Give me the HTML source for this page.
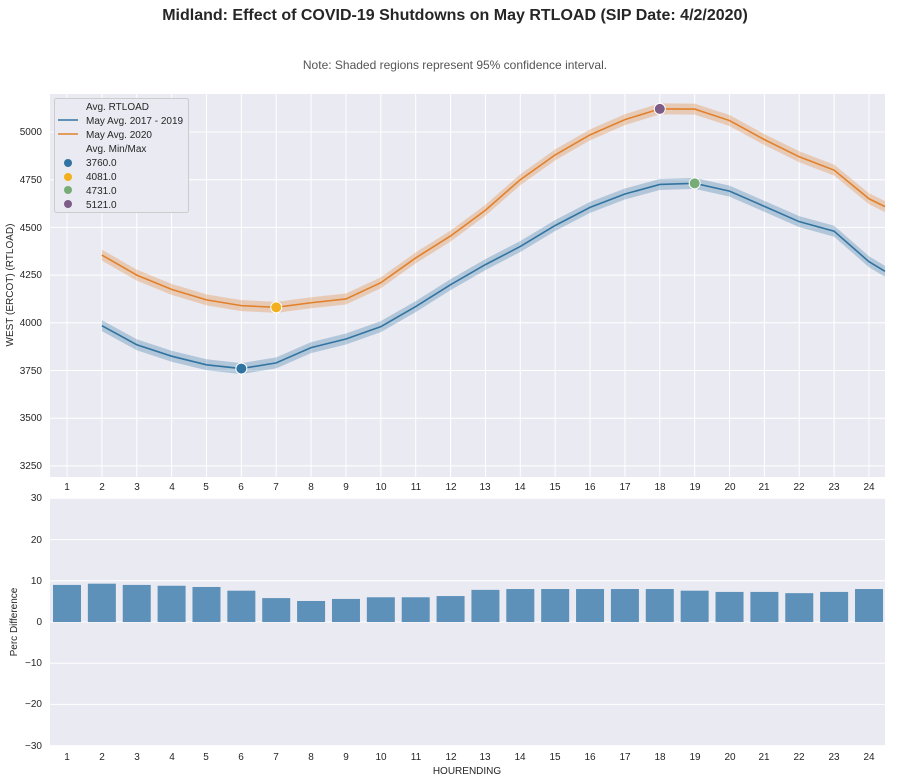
<!DOCTYPE html>
<html><head><meta charset="utf-8"><style>
body{margin:0;background:#fff;}
svg{display:block;font-family:"Liberation Sans",Arial,sans-serif;}
</style></head><body>
<svg id="s" width="897" height="782" viewBox="0 0 897 782">
<text x="455" y="20" text-anchor="middle" font-size="16" font-weight="bold" fill="#262626">Midland: Effect of COVID-19 Shutdowns on May RTLOAD (SIP Date: 4/2/2020)</text>
<text x="455" y="69" text-anchor="middle" font-size="12" fill="#555">Note: Shaded regions represent 95% confidence interval.</text>
<rect x="50" y="94" width="835" height="383" fill="#eaeaf2"/>
<rect x="50" y="498" width="835" height="248" fill="#eaeaf2"/>
<g id="grid" stroke="#fff" stroke-width="1"></g>
<g id="series"></g>
<g font-size="10" fill="#262626" text-anchor="end">
<text x="42" y="135">5000</text><text x="42" y="183">4750</text><text x="42" y="231">4500</text><text x="42" y="278">4250</text><text x="42" y="326">4000</text><text x="42" y="374">3750</text><text x="42" y="421">3500</text><text x="42" y="469">3250</text>
<text x="42" y="501">30</text><text x="42" y="543">20</text><text x="42" y="584">10</text><text x="42" y="625">0</text><text x="42" y="666">−10</text><text x="42" y="707">−20</text><text x="42" y="749">−30</text>
</g>
<g font-size="10" fill="#262626" text-anchor="middle">
<text x="67" y="490">1</text><text x="102" y="490">2</text><text x="137" y="490">3</text><text x="172" y="490">4</text><text x="206" y="490">5</text><text x="241" y="490">6</text><text x="276" y="490">7</text><text x="311" y="490">8</text><text x="346" y="490">9</text><text x="381" y="490">10</text><text x="416" y="490">11</text><text x="451" y="490">12</text><text x="485" y="490">13</text><text x="520" y="490">14</text><text x="555" y="490">15</text><text x="590" y="490">16</text><text x="625" y="490">17</text><text x="660" y="490">18</text><text x="695" y="490">19</text><text x="730" y="490">20</text><text x="764" y="490">21</text><text x="799" y="490">22</text><text x="834" y="490">23</text><text x="869" y="490">24</text>
<text x="67" y="760">1</text><text x="102" y="760">2</text><text x="137" y="760">3</text><text x="172" y="760">4</text><text x="206" y="760">5</text><text x="241" y="760">6</text><text x="276" y="760">7</text><text x="311" y="760">8</text><text x="346" y="760">9</text><text x="381" y="760">10</text><text x="416" y="760">11</text><text x="451" y="760">12</text><text x="485" y="760">13</text><text x="520" y="760">14</text><text x="555" y="760">15</text><text x="590" y="760">16</text><text x="625" y="760">17</text><text x="660" y="760">18</text><text x="695" y="760">19</text><text x="730" y="760">20</text><text x="764" y="760">21</text><text x="799" y="760">22</text><text x="834" y="760">23</text><text x="869" y="760">24</text>
<text x="467" y="774">HOURENDING</text>
<text transform="translate(13,285) rotate(-90)">WEST (ERCOT) (RTLOAD)</text>
<text transform="translate(17,622) rotate(-90)">Perc Difference</text>
</g>
<g font-size="10" fill="#262626">
<rect x="54.5" y="98.5" width="134" height="114" rx="2" fill="#eaeaf2" stroke="#ccc"/>
<text x="86" y="110">Avg. RTLOAD</text>
<line x1="58" y1="120" x2="78" y2="120" stroke="#3274a1" stroke-width="1.5"/><text x="86" y="124">May Avg. 2017 - 2019</text>
<line x1="58" y1="134" x2="78" y2="134" stroke="#e1812c" stroke-width="1.5"/><text x="86" y="138">May Avg. 2020</text>
<text x="86" y="152">Avg. Min/Max</text>
<circle cx="68" cy="163" r="4" fill="#3274a1"/><text x="86" y="166">3760.0</text>
<circle cx="68" cy="177" r="4" fill="#f2b01e"/><text x="86" y="180">4081.0</text>
<circle cx="68" cy="190" r="4" fill="#78ac77"/><text x="86" y="194">4731.0</text>
<circle cx="68" cy="204" r="4" fill="#7d5c87"/><text x="86" y="208">5121.0</text>
</g>
</svg>
<script>
var NS="http://www.w3.org/2000/svg";
function X(h){return 67+(h-1)*34.87;}
function Y(v){return 132+(5000-v)/250*47.7;}
function Yb(p){return 622-p*4.12;}
function el(t,a,p){var e=document.createElementNS(NS,t);for(var k in a)e.setAttribute(k,a[k]);p.appendChild(e);return e;}
var g=document.getElementById('grid'),s=document.getElementById('series');
for(var h=1;h<=24;h++){el('line',{x1:X(h),x2:X(h),y1:94,y2:477},g);}
[5000,4750,4500,4250,4000,3750,3500,3250].forEach(function(v){el('line',{x1:50,x2:885,y1:Y(v),y2:Y(v)},g);});
[30,20,10,0,-10,-20,-30].forEach(function(v){el('line',{x1:50,x2:885,y1:Yb(v),y2:Yb(v)},g);});
var o=[4355,4250,4175,4120,4090,4081,4105,4125,4210,4340,4455,4590,4750,4880,4985,5065,5121,5120,5060,4960,4870,4800,4650,4560];
var b=[3985,3885,3825,3780,3760,3790,3870,3915,3980,4085,4200,4305,4400,4510,4605,4675,4725,4731,4690,4610,4530,4480,4320,4210];
function draw(d,col){
 var pts=d.map(function(v,i){var h=i+2;var x=h==25?885:X(h);var y=Y(v);if(h==25){y=Y(d[22]+(v-d[22])*(885-X(24))/34.87);}return [x,y];});
 var up=pts.map(function(p){return p[0]+','+(p[1]-5.5);}).join(' ');
 var dn=pts.slice().reverse().map(function(p){return p[0]+','+(p[1]+5.5);}).join(' ');
 el('polygon',{points:up+' '+dn,fill:col,'fill-opacity':0.3},s);
 el('polyline',{points:pts.map(function(p){return p.join(',');}).join(' '),fill:'none',stroke:col,'stroke-width':1.6},s);
}
draw(o,'#e1812c');draw(b,'#3274a1');
el('circle',{cx:X(6),cy:Y(3760),r:5.5,fill:'#3274a1',stroke:'#fff','stroke-width':1},s);
el('circle',{cx:X(7),cy:Y(4081),r:5.5,fill:'#f2b01e',stroke:'#fff','stroke-width':1},s);
el('circle',{cx:X(18),cy:Y(5121),r:5.5,fill:'#7d5c87',stroke:'#fff','stroke-width':1},s);
el('circle',{cx:X(19),cy:Y(4731),r:5.5,fill:'#78ac77',stroke:'#fff','stroke-width':1},s);
var p=[9,9.3,9,8.8,8.5,7.6,5.8,5.1,5.6,6,6,6.3,7.8,8,8,8,8,8,7.6,7.3,7.3,7,7.3,8];
p.forEach(function(v,i){var x=X(i+1);el('rect',{x:x-14,y:Yb(v),width:28,height:622-Yb(v),fill:'#5d91b9'},s);});
</script>
</body></html>
